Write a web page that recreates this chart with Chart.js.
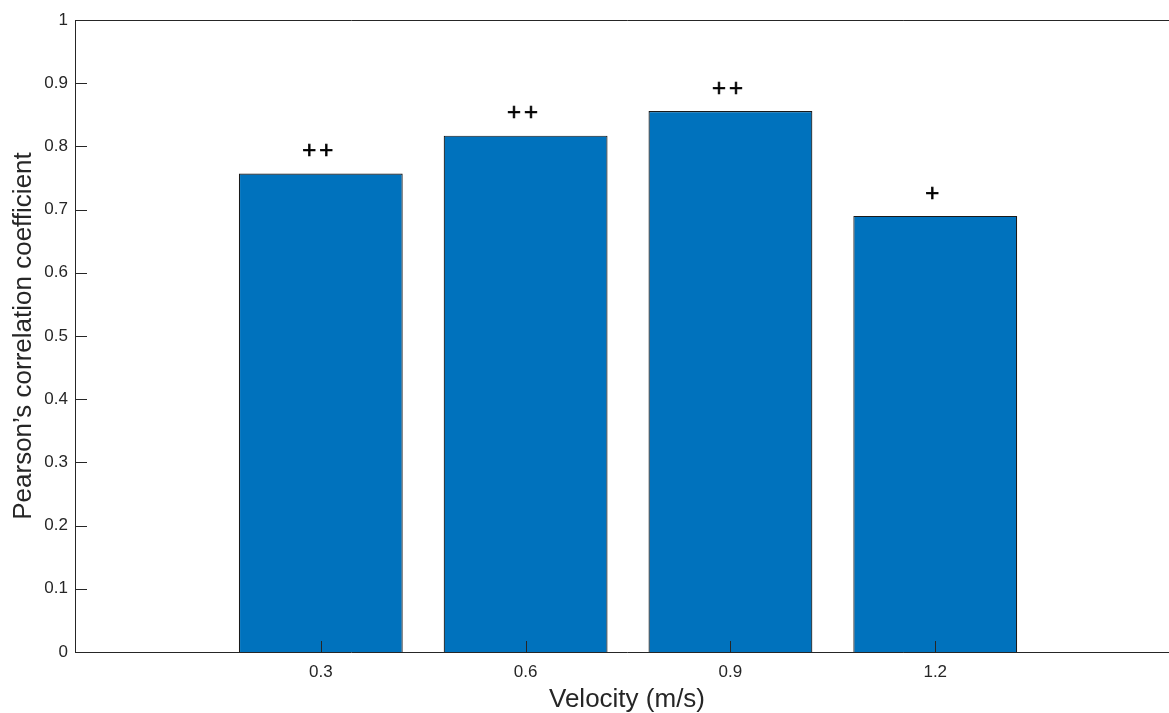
<!DOCTYPE html>
<html>
<head>
<meta charset="utf-8">
<script src="https://cdn.jsdelivr.net/npm/chart.js@4"></script>
<style>
  html, body { margin: 0; padding: 0; background: #fff; overflow: hidden; }
</style>
</head>
<body>
<canvas id="myChart" width="1179" height="713"></canvas>
<script>
// velocities (m/s) and the correlation for each
const velocities = [0.3, 0.6, 0.9, 1.2];
const pearson = [0.757, 0.817, 0.856, 0.690];
const significance = ['++', '++', '++', '+'];

// tick labels
const xTicks = [0.3, 0.6, 0.9, 1.2];
const yTicks = [0, 0.1, 0.2, 0.3, 0.4, 0.5, 0.6, 0.7, 0.8, 0.9, 1];

const axisColor = '#262626';
const barColor = '#0072BD';

// matlab style box and inward ticks, drawn on top of the bars
const boxAndTicks = {
  id: 'boxAndTicks',
  afterDatasetsDraw(chart) {
    const ctx = chart.ctx;
    const area = chart.chartArea;
    const x = chart.scales.x;
    const y = chart.scales.y;
    ctx.save();
    ctx.strokeStyle = axisColor;
    ctx.lineWidth = 1;
    ctx.beginPath();
    ctx.moveTo(area.left + 0.5, area.top + 0.5);
    ctx.lineTo(area.right, area.top + 0.5);
    ctx.moveTo(area.left + 0.5, area.top);
    ctx.lineTo(area.left + 0.5, area.bottom + 0.5);
    ctx.lineTo(area.right, area.bottom + 0.5);
    ctx.lineTo(area.right - 0.5, area.top);
    yTicks.forEach(v => {
      const py = Math.round(y.getPixelForValue(v)) + 0.5;
      ctx.moveTo(area.left, py);
      ctx.lineTo(area.left + 12, py);
    });
    xTicks.forEach(v => {
      const px = Math.round(x.getPixelForValue(v)) + 0.5;
      ctx.moveTo(px, area.bottom);
      ctx.lineTo(px, area.bottom - 11);
    });
    ctx.stroke();

    // significance marks above each bar
    ctx.fillStyle = '#000';
    ctx.strokeStyle = '#000';
    ctx.lineWidth = 0.7;
    ctx.font = '24px "Liberation Sans", Arial, sans-serif';
    ctx.letterSpacing = '3px';
    ctx.textAlign = 'center';
    ctx.textBaseline = 'middle';
    velocities.forEach((v, i) => {
      const px = x.getPixelForValue(v) + 1.5 - 3;
      const py = y.getPixelForValue(pearson[i]) - 22;
      ctx.fillText(significance[i], px, py);
      ctx.strokeText(significance[i], px, py);
    });
    ctx.restore();
  }
};

const ctx = document.getElementById('myChart');

new Chart(ctx, {
  type: 'bar',
  data: {
    datasets: [{
      data: velocities.map((v, i) => ({ x: v, y: pearson[i] })),
      backgroundColor: barColor,
      borderColor: '#1a1a1a',
      borderWidth: 1.2,
      borderSkipped: 'start',
      barPercentage: 0.8,
      categoryPercentage: 1
    }]
  },
  options: {
    responsive: false,
    animation: false,
    layout: { padding: { top: 20, right: 0, bottom: 0, left: 0 } },
    plugins: {
      legend: { display: false },
      tooltip: { enabled: false }
    },
    scales: {
      x: {
        type: 'linear',
        min: -0.06,
        max: 1.557,
        offset: false,
        afterBuildTicks: (scale) => { scale.ticks = xTicks.map(v => ({ value: v })); },
        afterFit: (scale) => { scale.height = 61; },
        grid: { display: false, drawTicks: false, offset: false },
        border: { display: false },
        ticks: {
          color: axisColor,
          padding: 10,
          maxRotation: 0,
          font: { family: '"Liberation Sans", Arial, sans-serif', size: 17 },
          callback: (v) => String(v)
        },
        title: {
          display: true,
          text: 'Velocity (m/s)',
          color: axisColor,
          padding: 0,
          font: { family: '"Liberation Sans", Arial, sans-serif', size: 26, lineHeight: 1 }
        }
      },
      y: {
        min: 0,
        max: 1,
        afterBuildTicks: (scale) => { scale.ticks = yTicks.map(v => ({ value: v })); },
        afterFit: (scale) => { scale.width = 75; },
        grid: { display: false, drawTicks: false },
        border: { display: false },
        ticks: {
          color: axisColor,
          padding: 7,
          font: { family: '"Liberation Sans", Arial, sans-serif', size: 17 },
          callback: (v) => String(v)
        },
        title: {
          display: true,
          text: 'Pearson’s correlation coefficient',
          color: axisColor,
          padding: { top: 11, bottom: 0 },
          font: { family: '"Liberation Sans", Arial, sans-serif', size: 26, lineHeight: 1 }
        }
      }
    }
  },
  plugins: [boxAndTicks]
});
</script>
</body>
</html>
